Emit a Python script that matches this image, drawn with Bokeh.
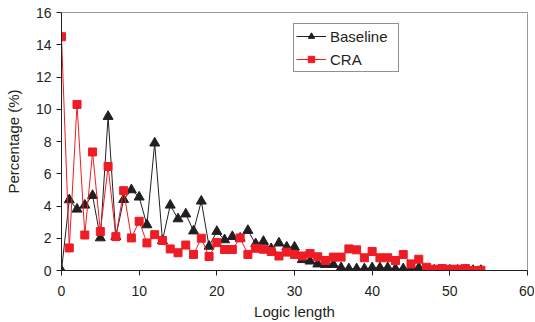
from bokeh.plotting import figure
from bokeh.models import Range1d, SingleIntervalTicker, Legend
from bokeh.embed import file_html
from bokeh.resources import INLINE

logic_length = list(range(0, 55))
baseline = [0.0, 4.38, 3.8, 4.05, 4.65, 2.02, 9.55, 2.1, 4.4, 5.0,
            4.55, 2.83, 7.9, 1.85, 4.05, 3.2, 3.5, 2.45, 4.3, 1.5,
            2.42, 1.9, 2.1, 2.0, 2.48, 1.65, 1.8, 1.35, 1.7, 1.45,
            1.45, 0.67, 0.58, 0.4, 0.37, 0.37, 0.17, 0.1, 0.1, 0.1,
            0.17, 0.17, 0.17, 0.1, 0.1, 0.1, 0.17, 0.03, 0.02, 0.02,
            0.02, 0.02, 0.02, 0.0, 0.0]
cra = [14.5, 1.4, 10.3, 2.2, 7.35, 2.42, 6.45, 2.1, 4.95, 2.02,
       3.05, 1.71, 2.22, 1.86, 1.34, 1.1, 1.58, 1.0, 2.0, 0.87,
       1.73, 1.3, 1.3, 2.02, 1.0, 1.38, 1.32, 1.18, 0.9, 1.14,
       1.0, 0.9, 1.05, 0.85, 0.62, 0.83, 0.83, 1.34, 1.28, 0.79,
       1.18, 0.79, 0.79, 0.62, 0.99, 0.41, 0.7, 0.2, 0.08, 0.12,
       0.08, 0.08, 0.12, 0.0, 0.02]

FONT = "Liberation Sans"
BLACK = "#231f20"
RED = "#ee1c25"

p = figure(width=534, height=322, output_backend="svg", toolbar_location=None,
           x_range=Range1d(0, 60), y_range=Range1d(0, 16),
           min_border_left=61, min_border_top=12, min_border_right=7, min_border_bottom=52)

p.xgrid.visible = False
p.ygrid.visible = False
p.outline_line_color = "#9a9a9a"
p.outline_line_width = 1
p.background_fill_color = "white"

p.xaxis.ticker = SingleIntervalTicker(interval=10)
p.yaxis.ticker = SingleIntervalTicker(interval=2)
for ax in (p.xaxis[0], p.yaxis[0]):
    ax.axis_line_color = BLACK
    ax.major_tick_line_color = BLACK
    ax.major_tick_out = 5
    ax.major_tick_in = 0
    ax.minor_tick_line_color = None
    ax.major_label_text_font = FONT
    ax.major_label_text_font_size = "14px"
    ax.major_label_text_color = BLACK
    ax.axis_label_text_font = FONT
    ax.axis_label_text_font_size = "15px"
    ax.axis_label_text_font_style = "normal"
    ax.axis_label_text_color = BLACK

p.xaxis.axis_label = "Logic length"
p.yaxis.axis_label = "Percentage (%)"
p.xaxis.major_label_standoff = 10
p.xaxis.axis_label_standoff = 4
p.yaxis.major_label_standoff = 5
p.yaxis.axis_label_standoff = 11

l1 = p.line(logic_length, baseline, line_color=BLACK, line_width=1)
m1 = p.scatter(logic_length, baseline, marker="triangle", size=10,
               fill_color=BLACK, line_color=BLACK)
l2 = p.line(logic_length, cra, line_color=RED, line_width=1)
m2 = p.scatter(logic_length, cra, marker="square", size=8,
               fill_color=RED, line_color=RED)

legend = Legend(items=[("Baseline", [l1, m1]), ("CRA", [l2, m2])],
                location=(232, 198))
legend.label_text_font = FONT
legend.label_text_font_size = "15px"
legend.label_text_color = BLACK
legend.border_line_color = BLACK
legend.border_line_width = 1
legend.background_fill_alpha = 1.0
legend.padding = 2
legend.spacing = 3
legend.margin = 0
legend.glyph_width = 30
legend.glyph_height = 16
legend.label_height = 20
legend.label_width = 66
legend.label_standoff = 4
p.add_layout(legend, "center")

open("out.html", "w").write(file_html(p, INLINE))
